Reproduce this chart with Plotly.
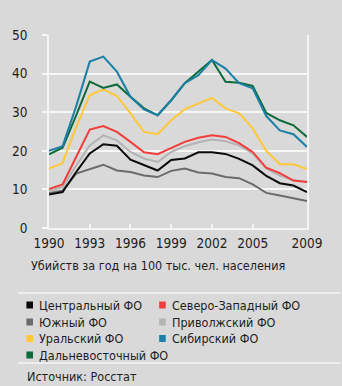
import plotly.graph_objects as go

years = list(range(1990, 2010))

central = [8.7, 9.3, 14.5, 19.3, 21.7, 21.3, 17.7, 16.2, 14.9, 17.6, 18.0, 19.6, 19.6, 19.2, 17.9, 16.2, 13.5, 11.6, 11.0, 9.3]
south = [9.0, 9.7, 14.1, 15.2, 16.4, 14.9, 14.5, 13.6, 13.2, 14.8, 15.4, 14.4, 14.1, 13.2, 12.9, 11.3, 9.1, 8.4, 7.6, 7.0]
volga = [9.6, 10.6, 16.2, 21.4, 24.0, 22.7, 19.7, 18.0, 17.1, 19.7, 21.2, 22.2, 22.9, 22.5, 21.4, 19.3, 15.4, 13.6, 12.4, 12.0]
northwest = [10.1, 11.3, 18.4, 25.5, 26.4, 24.9, 22.3, 19.6, 19.1, 20.8, 22.3, 23.4, 24.0, 23.6, 22.0, 19.7, 15.6, 14.2, 12.3, 11.9]
ural = [15.4, 16.8, 26.2, 34.4, 35.9, 34.2, 29.7, 24.9, 24.3, 27.9, 30.8, 32.3, 33.7, 31.0, 29.7, 25.8, 20.0, 16.5, 16.5, 15.3]
fareast = [19.1, 20.8, 29.2, 37.9, 36.3, 37.2, 34.0, 31.0, 29.2, 33.1, 37.5, 40.5, 43.5, 37.9, 37.6, 36.8, 29.8, 27.9, 26.6, 23.6]
siberia = [20.0, 21.2, 31.5, 43.1, 44.4, 40.5, 34.0, 30.7, 29.2, 33.1, 37.5, 39.6, 43.5, 41.3, 37.5, 36.2, 29.0, 25.3, 24.3, 21.0]

tick_years = [1990, 1993, 1996, 1999, 2002, 2005, 2009]
y_ticks = [0, 10, 20, 30, 40, 50]

names = ["Центральный ФО", "Северо-Западный ФО", "Южный ФО", "Приволжский ФО",
         "Уральский ФО", "Сибирский ФО", "Дальневосточный ФО"]
colors = {
    "Центральный ФО": "#0a0a0a",
    "Северо-Западный ФО": "#f23d3d",
    "Южный ФО": "#6b6b6b",
    "Приволжский ФО": "#b3b3b3",
    "Уральский ФО": "#ffc83a",
    "Сибирский ФО": "#1b7fa6",
    "Дальневосточный ФО": "#0d6a3a",
}
series = {
    "Центральный ФО": central,
    "Северо-Западный ФО": northwest,
    "Южный ФО": south,
    "Приволжский ФО": volga,
    "Уральский ФО": ural,
    "Сибирский ФО": siberia,
    "Дальневосточный ФО": fareast,
}
draw_order = ["Южный ФО", "Центральный ФО", "Приволжский ФО", "Северо-Западный ФО",
              "Уральский ФО", "Дальневосточный ФО", "Сибирский ФО"]

BG = "#d9d9d9"
FONT = "DejaVu Sans Condensed"
TXT = "#1e1e1e"

W, H = 342, 386
L, R, T, B = 33, 307, 35, 228


def px(xp):
    return (xp - L) / (R - L)


def py(yp):
    return (B - yp) / (B - T)


fig = go.Figure()
for n in draw_order:
    fig.add_trace(go.Scatter(x=years, y=series[n], mode="lines", name=n,
                             line=dict(color=colors[n], width=2), showlegend=False,
                             cliponaxis=False))

annotations = []
shapes = []

# legend (manual, 2 columns)
cols = [(9, 20), (150, 162)]
rows = [305, 322, 338.5, 355]
for i, n in enumerate(names):
    r, c = divmod(i, 2)
    sx, tx = cols[c]
    yy = rows[r]
    shapes.append(dict(type="rect", xref="paper", yref="paper",
                       x0=px(sx), x1=px(sx + 7), y0=py(yy + 3.5), y1=py(yy - 3.5),
                       fillcolor=colors[n], line=dict(width=0)))
    annotations.append(dict(text=n, xref="paper", yref="paper", x=px(tx), y=py(yy),
                            xanchor="left", yanchor="middle", showarrow=False,
                            font=dict(family=FONT, size=12.5, color=TXT)))

# axis title and source
annotations.append(dict(text="Убийств за год на 100 тыс. чел. населения", xref="paper", yref="paper",
                        x=px(12), y=py(265), xanchor="left", yanchor="middle", showarrow=False,
                        font=dict(family=FONT, size=12.5, color=TXT)))
annotations.append(dict(text="Источник: Росстат", xref="paper", yref="paper",
                        x=px(8), y=py(376), xanchor="left", yanchor="middle", showarrow=False,
                        font=dict(family=FONT, size=12.5, color=TXT)))

# separators
for yy in (293, 363):
    shapes.append(dict(type="line", xref="paper", yref="paper", x0=px(0), x1=px(W),
                       y0=py(yy), y1=py(yy), line=dict(color="#f4f4f4", width=1.5)))

fig.update_layout(
    width=W, height=H,
    margin=dict(l=L, r=W - R, t=T, b=H - B, pad=0),
    paper_bgcolor=BG, plot_bgcolor=BG,
    shapes=shapes, annotations=annotations,
    showlegend=False,
    xaxis=dict(range=[1990, 2009], tickvals=tick_years, ticktext=[str(t) for t in tick_years],
               showgrid=False, zeroline=False, showline=True, linecolor="#f4f4f4", linewidth=1.5,
               ticks="inside", ticklen=4, tickcolor="#f4f4f4", tickwidth=1.5,
               tickfont=dict(family=FONT, size=13.5, color=TXT), ticklabelstandoff=2,
               fixedrange=True),
    yaxis=dict(range=[0, 50], tickvals=y_ticks, showgrid=True, gridcolor="#f7f7f7", gridwidth=1.5,
               zeroline=False, showline=True, mirror=True, linecolor="#f4f4f4", linewidth=1.5,
               ticks="outside", ticklen=5, tickcolor="#f7f7f7", tickwidth=1.5,
               tickfont=dict(family=FONT, size=13.5, color=TXT), ticklabelstandoff=12,
               fixedrange=True),
)

fig.write_html("out.html")
